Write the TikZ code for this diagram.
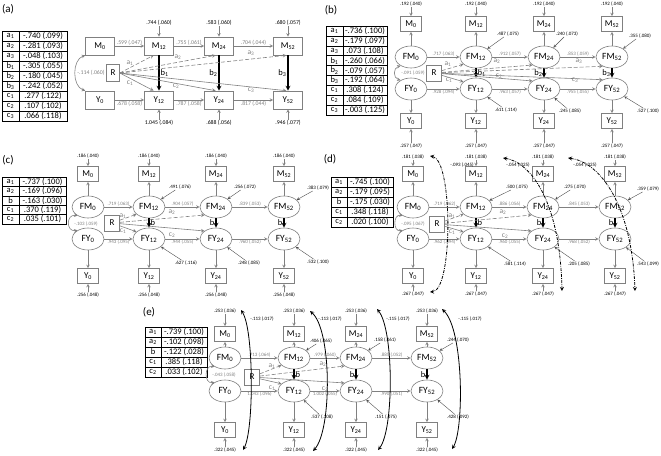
\documentclass[tikz,border=0pt]{standalone}
\usepackage{fontspec}
\setmainfont{Carlito}
\usetikzlibrary{shapes.geometric}
\tikzset{>=stealth}
\tikzset{
  box/.style={draw=gray, line width=0.6pt, minimum width=21pt, minimum height=15pt, inner sep=0pt, font=\fontsize{9}{9}\selectfont},
  bigbox/.style={box, minimum width=29pt, minimum height=18pt},
  rbox/.style={box, minimum width=15pt, minimum height=16pt},
  lat/.style={draw=gray, line width=0.6pt, ellipse, minimum width=32pt, minimum height=22pt, inner sep=0pt, font=\fontsize{9.5}{9.5}\selectfont},
  est/.style={font=\fontsize{5}{5}\selectfont, inner sep=0.6pt},
  bigest/.style={est, font=\fontsize{5.8}{5.8}\selectfont},
  pth/.style={est, text=gray},
  bigpth/.style={bigest, text=gray},
  lab/.style={font=\fontsize{7.5}{7.5}\selectfont, inner sep=1pt, text=gray},
  blab/.style={lab, font=\fontsize{8.5}{8.5}\selectfont, text=black},
  arr/.style={draw=gray, line width=0.6pt, ->},
  aeff/.style={arr, dash pattern=on 4pt off 2pt},
  beff/.style={draw=black, line width=1.2pt, ->},
  res/.style={draw=black!70, line width=0.4pt, ->},
  corr/.style={draw=black, line width=0.8pt, <->},
  dcorr/.style={corr, dash pattern=on 3pt off 1.2pt on 0.8pt off 1.2pt},
  cell/.style={draw, line width=0.6pt, inner sep=0pt, minimum height=10pt, font=\fontsize{8.5}{8.5}\selectfont},
  panel/.style={font=\fontsize{11}{11}\selectfont, inner sep=0pt},
}
\begin{document}
\begin{tikzpicture}[x=1pt,y=-1pt]
\useasboundingbox (0,0) rectangle (661,455);
% (a)
\node[panel] (pa) at (8,9) {(a)};
\foreach \pp/\vv [count=\i] in {a\textsubscript{1}/-.740 (.099), a\textsubscript{2}/-.281 (.093), a\textsubscript{3}/-.048 (.103), b\textsubscript{1}/-.305 (.055), b\textsubscript{2}/-.180 (.045), b\textsubscript{3}/-.242 (.052), c\textsubscript{1}/.277 (.122), c\textsubscript{2}/.107 (.102), c\textsubscript{3}/.066 (.118)}{
  \node[cell, minimum width=17pt] (aTp\i) at (10.5,26+10*\i) {\pp};
  \node[cell, minimum width=48pt] (aTv\i) at (43,26+10*\i) {\vv};
}
\foreach \px/\ix in {100/0,159/12,219/24,288/52}{
  \node[bigbox] (aM\ix) at (\px,46) {M\textsubscript{\ix}};
  \node[bigbox] (aY\ix) at (\px,100) {Y\textsubscript{\ix}};
}
\node[rbox, minimum width=13pt, minimum height=17pt] (aR) at (113,73) {R};
\foreach \px/\ix/\mt/\yt in {159/12/.744 (.060)/1.045 (.084), 219/24/.583 (.060)/.688 (.056), 288/52/.680 (.057)/.946 (.077)}{
  \node[bigest] (aU\ix) at (\px,23) {\mt};
  \node[bigest] (aW\ix) at (\px,123) {\yt};
  \draw[arr] (aU\ix) -- (aM\ix);
  \draw[arr] (aW\ix) -- (aY\ix);
}
\foreach \ia/\ib/\mt/\yt in {0/12/.599 (.047)/.678 (.058), 12/24/.755 (.061)/.787 (.058), 24/52/.704 (.044)/.817 (.044)}{
  \draw[arr] (aM\ia) -- node[bigpth, above] (aPm\ib) {\mt} (aM\ib);
  \draw[arr] (aY\ia) -- node[bigpth, below] (aPy\ib) {\yt} (aY\ib);
}
\draw[arr, <->] (aM0.south west) .. controls (72,60) and (72,86) .. (aY0.north west);
\node[bigpth] (aC0) at (91,73) {-.114 (.060)};
\draw[beff] (aM12) -- node[blab, right] (aLb1) {b\textsubscript{1}} (aY12);
\draw[beff] (aM24) -- node[blab, left] (aLb2) {b\textsubscript{2}} (aY24);
\draw[beff] (aM52) -- node[blab, left] (aLb3) {b\textsubscript{3}} (aY52);
\draw[aeff] (aR.east) -- (aM12.-120);
\draw[aeff] (aR.east) -- (aM24.-110);
\draw[aeff] (aR.east) -- (aM52.-100);
\draw[arr] (aR.east) -- (aY12.120);
\draw[arr] (aR.east) -- (aY24.110);
\draw[arr] (aR.east) -- (aY52.100);
\node[lab] (aLa1) at (130,63) {a\textsubscript{1}};
\node[lab] (aLc1) at (130,83) {c\textsubscript{1}};
\node[lab] (aLa2) at (178,57) {a\textsubscript{2}};
\node[lab] (aLc2) at (176,86) {c\textsubscript{2}};
\node[lab] (aLa3) at (251,53) {a\textsubscript{3}};
\node[lab] (aLc3) at (251,90) {c\textsubscript{3}};
% (b)
\node[panel] (pb) at (331,10) {(b)};
\foreach \pp/\vv [count=\i] in {a\textsubscript{1}/-.736 (.100), a\textsubscript{2}/-.179 (.097), a\textsubscript{3}/.073 (.108), b\textsubscript{1}/-.260 (.066), b\textsubscript{2}/-.079 (.057), b\textsubscript{3}/-.192 (.064), c\textsubscript{1}/.308 (.124), c\textsubscript{2}/.084 (.109), c\textsubscript{3}/-.003 (.125)}{
  \node[cell, minimum width=17pt, minimum height=9.9pt] (bTp\i) at (334.5,21.05+9.9*\i) {\pp};
  \node[cell, minimum width=44pt, minimum height=9.9pt] (bTv\i) at (365,21.05+9.9*\i) {\vv};
}
\foreach \px/\ix in {411/0,476/12,544/24,612/52}{
  \node[box] (bM\ix) at (\px,24) {M\textsubscript{\ix}};
  \node[lat] (bFM\ix) at (\px,57) {FM\textsubscript{\ix}};
  \node[lat] (bFY\ix) at (\px,89) {FY\textsubscript{\ix}};
  \node[box] (bY\ix) at (\px,121) {Y\textsubscript{\ix}};
  \node[est] (bU\ix) at (\px,4) {.192 (.040)};
  \node[est] (bW\ix) at (\px,146) {.257 (.047)};
  \draw[arr] (bU\ix) -- (bM\ix);
  \draw[arr] (bFM\ix) -- (bM\ix);
  \draw[arr] (bFY\ix) -- (bY\ix);
  \draw[arr] (bW\ix) -- (bY\ix);
}
\node[rbox] (bR) at (434,73) {R};
\foreach \ia/\ib/\mt/\yt in {0/12/.717 (.063)/.928 (.094), 12/24/.912 (.057)/.963 (.057), 24/52/.853 (.059)/.955 (.055)}{
  \draw[arr] (bFM\ia) -- node[pth, above] (bPm\ib) {\mt} (bFM\ib);
  \draw[arr] (bFY\ia) -- node[pth, below] (bPy\ib) {\yt} (bFY\ib);
}
\foreach \ix/\mx/\my/\mt/\yx/\yy/\yt in {12/508/34/.487 (.075)/506/110/.611 (.114), 24/567/34/.240 (.073)/570/111/.245 (.085), 52/640/36/.355 (.080)/648/111/.527 (.100)}{
  \node[est] (bDm\ix) at (\mx,\my) {\mt};
  \node[est] (bDy\ix) at (\yx,\yy) {\yt};
  \draw[res] (bDm\ix) -- (bFM\ix);
  \draw[res] (bDy\ix) -- (bFY\ix);
}
\draw[arr, <->] (bFM0.220) .. controls (393,68) and (393,78) .. (bFY0.140);
\node[pth] (bC0) at (413,73) {-.091 (.059)};
\draw[beff] (bFM12) -- node[blab, right] (bLb1) {b\textsubscript{1}} (bFY12);
\draw[beff] (bFM24) -- node[blab, left] (bLb2) {b\textsubscript{2}} (bFY24);
\draw[beff] (bFM52) -- node[blab, left] (bLb3) {b\textsubscript{3}} (bFY52);
\draw[aeff] (bR) -- (bFM12.210);
\draw[aeff] (bR) -- (bFM24.215);
\draw[aeff] (bR) -- (bFM52.225);
\draw[arr] (bR) -- (bFY12.150);
\draw[arr] (bR) -- (bFY24.145);
\draw[arr] (bR) -- (bFY52.135);
\node[lab] (bLa1) at (448,64) {a\textsubscript{1}};
\node[lab] (bLc1) at (449,80) {c\textsubscript{1}};
\node[lab] (bLa2) at (497,61) {a\textsubscript{2}};
\node[lab] (bLc2) at (499,76) {c\textsubscript{2}};
\node[lab] (bLa3) at (579,61) {a\textsubscript{3}};
\node[lab] (bLc3) at (575,80) {c\textsubscript{3}};
% (c)
\node[panel] (pc) at (8,160) {(c)};
\foreach \pp/\vv [count=\i] in {a\textsubscript{1}/-.737 (.100), a\textsubscript{2}/-.169 (.096), b/-.163 (.030), c\textsubscript{1}/.370 (.119), c\textsubscript{2}/.035 (.101)}{
  \node[cell, minimum width=17pt, minimum height=9.4pt] (cTp\i) at (10.5,172.3+9.4*\i) {\pp};
  \node[cell, minimum width=47pt, minimum height=9.4pt] (cTv\i) at (42.5,172.3+9.4*\i) {\vv};
}
\foreach \px/\ix in {88/0,149/12,216/24,284/52}{
  \node[box] (cM\ix) at (\px,174) {M\textsubscript{\ix}};
  \node[lat] (cFM\ix) at (\px,207) {FM\textsubscript{\ix}};
  \node[lat] (cFY\ix) at (\px,239) {FY\textsubscript{\ix}};
  \node[box] (cY\ix) at (\px,276) {Y\textsubscript{\ix}};
  \node[est] (cU\ix) at (\px,156) {.186 (.040)};
  \node[est] (cW\ix) at (\px,295) {.256 (.048)};
  \draw[arr] (cU\ix) -- (cM\ix);
  \draw[arr] (cFM\ix) -- (cM\ix);
  \draw[arr] (cFY\ix) -- (cY\ix);
  \draw[arr] (cW\ix) -- (cY\ix);
}
\node[rbox] (cR) at (112,223) {R};
\foreach \ia/\ib/\mt/\yt in {0/12/.719 (.063)/.943 (.095), 12/24/.904 (.057)/.944 (.055), 24/52/.839 (.053)/.960 (.052)}{
  \draw[arr] (cFM\ia) -- node[pth, above] (cPm\ib) {\mt} (cFM\ib);
  \draw[arr] (cFY\ia) -- node[pth, below] (cPy\ib) {\yt} (cFY\ib);
}
\foreach \ix/\mx/\my/\mt/\yx/\yy/\yt in {12/180/187/.491 (.076)/186/263/.627 (.116), 24/245/187/.256 (.072)/249/263/.248 (.085), 52/318/188/.383 (.079)/318/262/.532 (.100)}{
  \node[est] (cDm\ix) at (\mx,\my) {\mt};
  \node[est] (cDy\ix) at (\yx,\yy) {\yt};
  \draw[res] (cDm\ix) -- (cFM\ix);
  \draw[res] (cDy\ix) -- (cFY\ix);
}
\draw[arr, <->] (cFM0.220) .. controls (66,214) and (66,232) .. (cFY0.140);
\node[pth] (cC0) at (86,224) {-.103 (.059)};
\draw[beff] (cFM12) -- node[blab, right] (cLb1) {b} (cFY12);
\draw[beff] (cFM24) -- node[blab, left] (cLb2) {b} (cFY24);
\draw[beff] (cFM52) -- node[blab, left] (cLb3) {b} (cFY52);
\draw[aeff] (cR) -- (cFM12.210);
\draw[aeff] (cR) -- (cFM24.215);
\draw[arr] (cR) -- (cFY12.150);
\draw[arr] (cR) -- (cFY24.145);
\node[lab] (cLa1) at (123,216) {a\textsubscript{1}};
\node[lab] (cLc1) at (123,231) {c\textsubscript{1}};
\node[lab] (cLa2) at (172,212) {a\textsubscript{2}};
\node[lab] (cLc2) at (172,235) {c\textsubscript{2}};
% (d)
\node[panel] (pd) at (330,159) {(d)};
\foreach \pp/\vv [count=\i] in {a\textsubscript{1}/-.745 (.100), a\textsubscript{2}/-.179 (.095), b/-.175 (.030), c\textsubscript{1}/.348 (.118), c\textsubscript{2}/.020 (.100)}{
  \node[cell, minimum width=16pt] (dTp\i) at (339,172+10*\i) {\pp};
  \node[cell, minimum width=46pt] (dTv\i) at (370,172+10*\i) {\vv};
}
\foreach \px/\ix in {413/0,476/12,543/24,615/52}{
  \node[box] (dM\ix) at (\px,174) {M\textsubscript{\ix}};
  \node[lat] (dFM\ix) at (\px,207) {FM\textsubscript{\ix}};
  \node[lat] (dFY\ix) at (\px,239) {FY\textsubscript{\ix}};
  \node[box] (dY\ix) at (\px,276) {Y\textsubscript{\ix}};
  \node[est] (dU\ix) at (\px,157) {.181 (.038)};
  \node[est] (dW\ix) at (\px,294) {.267 (.047)};
  \draw[arr] (dU\ix) -- (dM\ix);
  \draw[arr] (dFM\ix) -- (dM\ix);
  \draw[arr] (dFY\ix) -- (dY\ix);
  \draw[arr] (dW\ix) -- (dY\ix);
}
\node[rbox] (dR) at (437,224) {R};
\foreach \ia/\ib/\mt/\yt in {0/12/.719 (.062)/.962 (.094), 12/24/.886 (.056)/.960 (.055), 24/52/.845 (.053)/.968 (.052)}{
  \draw[arr] (dFM\ia) -- node[pth, above] (dPm\ib) {\mt} (dFM\ib);
  \draw[arr] (dFY\ia) -- node[pth, below] (dPy\ib) {\yt} (dFY\ib);
}
\foreach \ix/\mx/\my/\mt/\yx/\yy/\yt in {12/517/187/.500 (.075)/515/264/.581 (.114), 24/575/187/.275 (.070)/579/264/.205 (.085), 52/648/189/.359 (.079)/648/264/.543 (.099)}{
  \node[est] (dDm\ix) at (\mx,\my) {\mt};
  \node[est] (dDy\ix) at (\yx,\yy) {\yt};
  \draw[res] (dDm\ix) -- (dFM\ix);
  \draw[res] (dDy\ix) -- (dFY\ix);
}
\draw[arr, <->] (dFM0.220) .. controls (393,214) and (393,232) .. (dFY0.140);
\node[pth] (dC0) at (413,224) {-.095 (.067)};
\draw[beff] (dFM12) -- node[blab, right] (dLb1) {b} (dFY12);
\draw[beff] (dFM24) -- node[blab, left] (dLb2) {b} (dFY24);
\draw[beff] (dFM52) -- node[blab, left] (dLb3) {b} (dFY52);
\draw[aeff] (dR) -- (dFM12.210);
\draw[aeff] (dR) -- (dFM24.215);
\draw[arr] (dR) -- (dFY12.150);
\draw[arr] (dR) -- (dFY24.145);
\node[lab] (dLa1) at (452,216) {a\textsubscript{1}};
\node[lab] (dLc1) at (452,232) {c\textsubscript{1}};
\node[lab] (dLa2) at (503,212) {a\textsubscript{2}};
\node[lab] (dLc2) at (505,236) {c\textsubscript{2}};
\coordinate (dA0) at (430,156);
\coordinate (dB0) at (430,292);
\coordinate (dA12) at (503,158);
\coordinate (dB24) at (562,291);
\coordinate (dA24) at (568,158);
\coordinate (dB52) at (635,291);
\draw[dcorr] (dA0) .. controls (453,160) and (453,290) .. (dB0);
\draw[dcorr] (dA12) .. controls (530,162) and (560,200) .. (dB24);
\draw[dcorr] (dA24) .. controls (600,162) and (632,205) .. (dB52);
\node[est] (dK0) at (462,165) {-.093 (.045)};
\node[est] (dK12) at (518,165) {-.054 (.025)};
\node[est] (dK24) at (585,165) {-.054 (.025)};
% (e)
\node[panel] (pe) at (149,312) {(e)};
\foreach \pp/\vv [count=\i] in {a\textsubscript{1}/-.739 (.100), a\textsubscript{2}/-.102 (.098), b/-.122 (.028), c\textsubscript{1}/.385 (.118), c\textsubscript{2}/.033 (.102)}{
  \node[cell, minimum width=16pt] (eTp\i) at (153,322+10*\i) {\pp};
  \node[cell, minimum width=46pt] (eTv\i) at (184,322+10*\i) {\vv};
}
\foreach \px/\ix in {225/0,294/12,356/24,427/52}{
  \node[box] (eM\ix) at (\px,334) {M\textsubscript{\ix}};
  \node[lat] (eFM\ix) at (\px,358) {FM\textsubscript{\ix}};
  \node[lat] (eFY\ix) at (\px,391) {FY\textsubscript{\ix}};
  \node[box] (eY\ix) at (\px,430) {Y\textsubscript{\ix}};
  \node[est] (eU\ix) at (\px,311) {.253 (.036)};
  \node[est] (eW\ix) at (\px,450) {.322 (.045)};
  \draw[arr] (eU\ix) -- (eM\ix);
  \draw[arr] (eFM\ix) -- (eM\ix);
  \draw[arr] (eFY\ix) -- (eY\ix);
  \draw[arr] (eW\ix) -- (eY\ix);
}
\node[rbox] (eR) at (252,377) {R};
\foreach \ia/\ib/\mt/\yt in {0/12/.713 (.064)/1.043 (.096), 12/24/.979 (.060)/1.002 (.055), 24/52/.885 (.052)/.990 (.051)}{
  \draw[arr] (eFM\ia) -- node[pth, above] (ePm\ib) {\mt} (eFM\ib);
  \draw[arr] (eFY\ia) -- node[pth, below] (ePy\ib) {\yt} (eFY\ib);
}
\foreach \ix/\mx/\my/\mt/\yx/\yy/\yt in {12/321/341/.406 (.065)/322/417/.537 (.108), 24/385/340/.158 (.061)/386/417/.151 (.075), 52/458/340/.244 (.070)/458/417/.428 (.092)}{
  \node[est] (eDm\ix) at (\mx,\my) {\mt};
  \node[est] (eDy\ix) at (\yx,\yy) {\yt};
  \draw[res] (eDm\ix) -- (eFM\ix);
  \draw[res] (eDy\ix) -- (eFY\ix);
}
\draw[arr, <->] (eFM0.220) .. controls (204,365) and (204,384) .. (eFY0.140);
\node[pth] (eC0) at (224,375) {-.043 (.058)};
\draw[beff] (eFM12) -- node[blab, right] (eLb1) {b} (eFY12);
\draw[beff] (eFM24) -- node[blab, left] (eLb2) {b} (eFY24);
\draw[beff] (eFM52) -- node[blab, left] (eLb3) {b} (eFY52);
\draw[aeff] (eR) -- (eFM12.210);
\draw[aeff] (eR) -- (eFM24.215);
\draw[arr] (eR) -- (eFY12.150);
\draw[arr] (eR) -- (eFY24.145);
\node[lab] (eLa1) at (272,366) {a\textsubscript{1}};
\node[lab] (eLc1) at (272,388) {c\textsubscript{1}};
\node[lab] (eLa2) at (323,364) {a\textsubscript{2}};
\node[lab] (eLc2) at (325,389) {c\textsubscript{2}};
\foreach \ix/\ax/\ay/\bx/\by/\cx/\kx/\kt in {0/241/310/243/450/254/262/-.113 (.017), 12/310/311/313/451/332/330/-.113 (.017), 24/377/309/378/450/394/398/-.115 (.017), 52/442/309/452/449/464/470/-.115 (.017)}{
  \coordinate (eA\ix) at (\ax,\ay);
  \coordinate (eB\ix) at (\bx,\by);
  \draw[corr] (eA\ix) .. controls (\cx,330) and (\cx,430) .. (eB\ix);
  \node[est] (eK\ix) at (\kx,319) {\kt};
}
\end{tikzpicture}
\end{document}
